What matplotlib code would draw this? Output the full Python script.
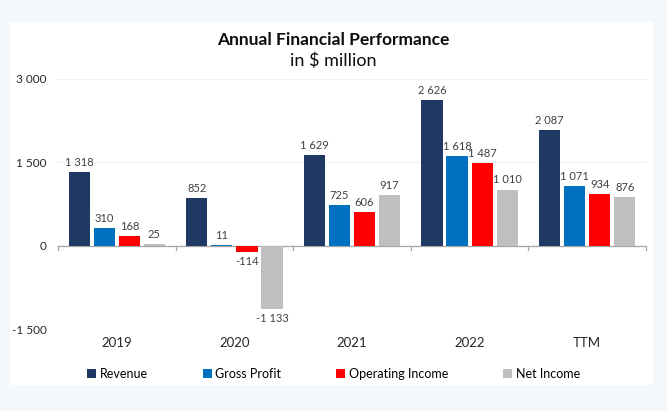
import numpy as np
import matplotlib.pyplot as plt
from matplotlib.patches import Rectangle

# Chart data (in $ million)
categories = ["2019", "2020", "2021", "2022", "TTM"]
revenue = [1318, 852, 1629, 2626, 2087]
gross_profit = [310, 11, 725, 1618, 1071]
operating_income = [168, -114, 606, 1487, 934]
net_income = [25, -1133, 917, 1010, 876]

series = [
    ("Revenue", revenue, "#1f3864"),
    ("Gross Profit", gross_profit, "#0070c0"),
    ("Operating Income", operating_income, "#ff0000"),
    ("Net Income", net_income, "#bfbfbf"),
]

plt.rcParams["font.family"] = ["Lato", "DejaVu Sans"]


def fmt(v):
    # thousands separated by a space
    return f"{v:,}".replace(",", " ")


fig = plt.figure(figsize=(6.67, 4.11), dpi=100)
fig.patch.set_facecolor("#f4f8fb")

# White panel behind the chart
fig.patches.append(Rectangle((10 / 667, 1 - 385 / 411), 643 / 667, 363 / 411,
                             transform=fig.transFigure, facecolor="white",
                             edgecolor="none", zorder=-1))

ax = fig.add_axes([58 / 667, 82 / 411, 588 / 667, 250 / 411])
ax.set_facecolor("none")

x = np.arange(len(categories))
width = 0.18
step = 0.213

for i, (name, values, color) in enumerate(series):
    pos = x + (i - 1.5) * step
    bars = ax.bar(pos, values, width, color=color, label=name, zorder=3)
    for b, v in zip(bars, values):
        ax.annotate(fmt(v), (b.get_x() + b.get_width() / 2, v),
                    xytext=(0, 3 if v >= 0 else -3), textcoords="offset points",
                    ha="center", va="bottom" if v >= 0 else "top",
                    fontsize=8, color="#404040")

ax.set_xlim(-0.5, len(categories) - 0.5)
ax.set_ylim(-1500, 3000)
ax.set_yticks([-1500, 0, 1500, 3000])
ax.set_yticklabels([fmt(t) for t in [-1500, 0, 1500, 3000]])
ax.yaxis.grid(True, color="#f0f0f0", linewidth=0.8, zorder=0)
ax.set_xticks(x)
ax.set_xticklabels(categories)
ax.tick_params(axis="both", length=0, labelsize=9.5, labelcolor="#262626")
ax.tick_params(axis="x", pad=6)
ax.tick_params(axis="y", pad=8, labelsize=8.5)
for s in ax.spines.values():
    s.set_visible(False)

# Zero axis line with category separator ticks
ax.axhline(0, color="#a6a6a6", linewidth=0.9, zorder=2)
for b in np.arange(len(categories) + 1) - 0.5:
    ax.plot([b, b], [0, -70], color="#a6a6a6", linewidth=0.9, zorder=2,
            clip_on=False)

fig.text(0.5, 1 - 40 / 411, "Annual Financial Performance", ha="center",
         va="center", fontsize=12.5, fontweight="bold", color="#0d0d0d")
fig.text(0.5, 1 - 61 / 411, "in $ million", ha="center", va="center",
         fontsize=13, color="#0d0d0d")

ax.legend(loc="center", bbox_to_anchor=(0.5, 1 - 374 / 411), bbox_transform=fig.transFigure,
          ncol=4, frameon=False, fontsize=9, handlelength=0.7, handleheight=0.7,
          handletextpad=0.3, columnspacing=4.4)

fig.savefig("out.png", dpi=100, facecolor=fig.get_facecolor())
